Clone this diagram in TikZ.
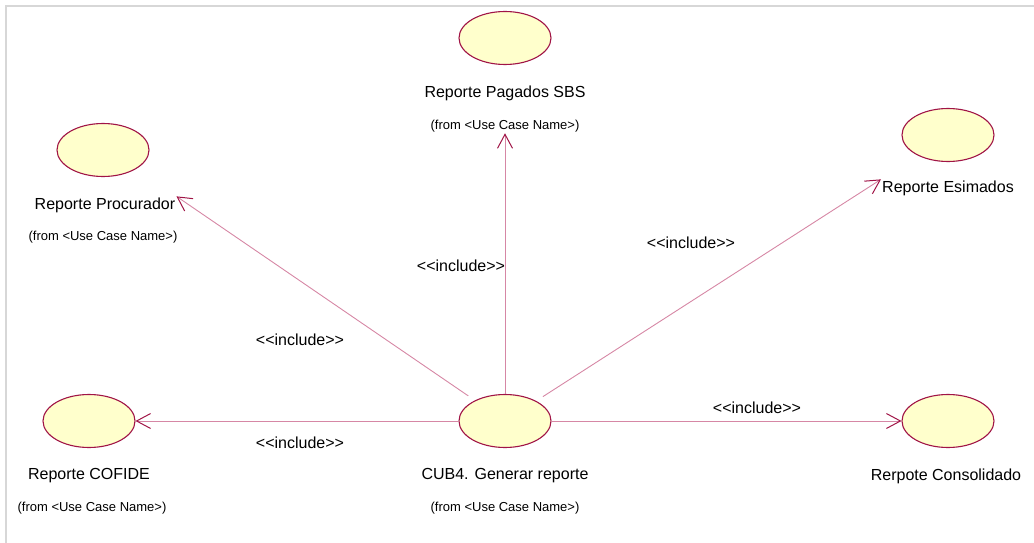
\documentclass[tikz,border=0pt]{standalone}
\usepackage{fontspec}
\setmainfont{Liberation Sans}
\usepackage{xcolor}
\usetikzlibrary{shapes}
\usetikzlibrary{arrows.meta}
\definecolor{ucfill}{RGB}{255,255,204}
\definecolor{ucline}{RGB}{160,20,70}
\definecolor{inclink}{RGB}{214,135,165}
\definecolor{frame}{RGB}{215,215,215}
\tikzset{usecase/.style={ellipse,draw=ucline,fill=ucfill,line width=1.1pt,
   minimum width=92pt,minimum height=53pt,inner sep=0pt},
 ucname/.style={inner sep=1pt,font=\fontsize{16}{19}\selectfont},
 ucfrom/.style={inner sep=1pt,font=\fontsize{13}{15}\selectfont},
 incl/.style={inner sep=1pt,font=\fontsize{16}{19}\selectfont},
 include/.style={draw=inclink,line width=0.9pt,
   -{Straight Barb[length=14pt,width=15pt,color=ucline,line width=1pt]}},
 }

\begin{document}
\begin{tikzpicture}[x=1pt,y=-1pt]
        \useasboundingbox (0,0) rectangle (1034,543);
        \draw[frame, line width=2pt] (5,6) -- (1034,6);
        \draw[frame, line width=2pt] (6,6) -- (6,543);
        % use cases
        \node[usecase] (sbs) at (505,38) {};
        \node[usecase] (proc) at (103,150) {};
        \node[usecase] (esi) at (948,135) {};
        \node[usecase] (cof) at (89,421) {};
        \node[usecase] (cub) at (505,421) {};
        \node[usecase] (con) at (948,421) {};
        % names
        \node[ucname] (sbsname) at (505,93) {Reporte Pagados SBS};
        \node[ucfrom] (sbsfrom) at (505,126) {(from <Use Case Name>)};
        \node[ucname] (procname) at (105,205) {Reporte Procurador};
        \node[ucfrom] (procfrom) at (103,237) {(from <Use Case Name>)};
        \node[ucname] (esiname) at (948,188) {Reporte Esimados};
        \node[ucname] (cofname) at (89,476) {Reporte COFIDE};
        \node[ucfrom] (coffrom) at (92,508) {(from <Use Case Name>)};
        \node[ucname] (cubname) at (505,476) {CUB4. Generar reporte};
        \node[ucfrom] (cubfrom) at (505,508) {(from <Use Case Name>)};
        \node[ucname] (conname) at (946,476) {Rerpote Consolidado};
        % include links
        \draw[include] (cub.north) -- (sbsfrom.south);
        \draw[include, shorten <=8pt] (cub) -- (procname.north east);
        \draw[include, shorten <=8pt] (cub) -- (esiname.north west);
        \draw[include] (cub.west) -- (cof.east);
        \draw[include] (cub.east) -- (con.west);
        \node[incl] (inc1) at (300,340) {<{}<include>{}>};
        \node[incl] (inc2) at (461,266) {<{}<include>{}>};
        \node[incl] (inc3) at (691,243) {<{}<include>{}>};
        \node[incl] (inc4) at (300,443) {<{}<include>{}>};
        \node[incl] (inc5) at (757,408) {<{}<include>{}>};
    \end{tikzpicture}
\end{document}
